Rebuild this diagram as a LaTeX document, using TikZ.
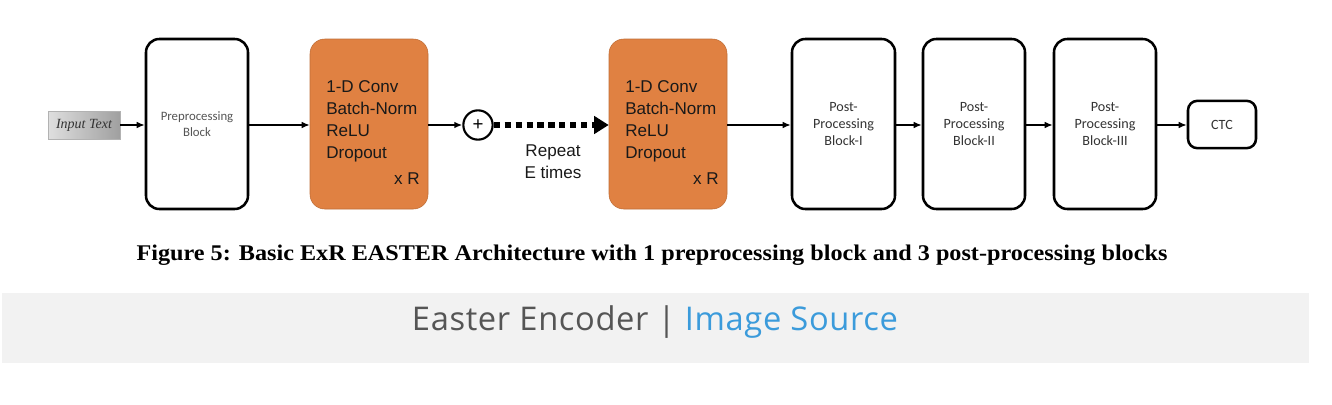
\documentclass[tikz,border=0pt]{standalone}
\usepackage{fontspec}
\setmainfont{Liberation Serif}
\newfontfamily\arialf{Liberation Sans}
\newfontfamily\calib{Carlito}
\newfontfamily\bandf[LetterSpace=2]{Open Sans}
\usetikzlibrary{arrows.meta}
\definecolor{orangebox}{RGB}{224,129,66}
\definecolor{bandgray}{RGB}{242,242,242}
\definecolor{srcblue}{RGB}{59,155,219}
\definecolor{txtgray}{RGB}{85,85,85}
\begin{document}
\begin{tikzpicture}[x=0.75pt,y=-0.75pt,
  whitebox/.style={draw=black,line width=1.9pt,rounded corners=10pt,fill=white,
    minimum height=127.5pt,inner sep=0pt,align=center,font=\calib\fontsize{10.6}{12.6}\selectfont,text=black!80},
  orangeblk/.style={fill=orangebox,draw=orangebox!85!black,line width=0.4pt,rounded corners=11pt,
    minimum width=88.5pt,minimum height=127.5pt,inner sep=0pt},
  blktext/.style={align=left,anchor=west,inner sep=0pt,font=\arialf\fontsize{12.8}{16.5}\selectfont,text=black!90},
  conn/.style={line width=1.1pt,-{Latex[length=6pt,width=5pt]}},
]
\useasboundingbox (0,0) rectangle (1332,404);
% input
\node[draw=gray!60,line width=0.3pt,left color=gray!25,right color=gray!75,minimum width=54pt,minimum height=21pt,inner sep=0pt,
  font=\itshape\fontsize{10.5}{12}\selectfont,text=black!80] (inp) at (84,125) {Input Text};
% blocks
\node[whitebox,minimum width=76.5pt,text=txtgray,font=\calib\fontsize{9.6}{12}\selectfont] (pre) at (197,124) {Preprocessing\\Block};
\node[orangeblk] (o1) at (369,124) {};
\node[blktext] (t1) at (326,121) {1-D Conv\\Batch-Norm\\ReLU\\Dropout};
\node[anchor=east,inner sep=0pt,font=\arialf\fontsize{12.8}{15}\selectfont,text=black!90] (r1) at (420,179) {x R};
\node[draw=black,line width=1.6pt,circle,minimum size=22pt,inner sep=0pt,font=\arialf\fontsize{14}{14}\selectfont] (plus) at (478,125) {+};
\node[orangeblk] (o2) at (668,124) {};
\node[blktext] (t2) at (625,121) {1-D Conv\\Batch-Norm\\ReLU\\Dropout};
\node[anchor=east,inner sep=0pt,font=\arialf\fontsize{12.8}{15}\selectfont,text=black!90] (r2) at (719,179) {x R};
\node[align=center,inner sep=0pt,font=\arialf\fontsize{12.8}{16.5}\selectfont,text=black!90] (rep) at (553,162) {Repeat\\E times};
\node[whitebox,minimum width=77.25pt] (p1) at (843.5,124) {Post-\\Processing\\Block-I};
\node[whitebox,minimum width=76.5pt] (p2) at (974,124) {Post-\\Processing\\Block-II};
\node[whitebox,minimum width=76.5pt] (p3) at (1105,124) {Post-\\Processing\\Block-III};
\node[whitebox,minimum width=51pt,minimum height=35.5pt,rounded corners=7pt] (ctc) at (1222,124.5) {CTC};
% connectors
\draw[conn] (inp.east) -- (pre.west|-inp.east);
\draw[conn] (pre.east|-0,125) -- (o1.west|-0,125);
\draw[conn] (o1.east|-0,125) -- (plus.west);
\draw[line width=4.6pt,dash pattern=on 4.6pt off 3.6pt,-{Triangle[length=11pt,width=13pt]}] (plus.east) -- (o2.west|-plus.east);
\draw[conn] (o2.east|-0,125) -- (p1.west|-0,125);
\draw[conn] (p1.east|-0,125) -- (p2.west|-0,125);
\draw[conn] (p2.east|-0,125) -- (p3.west|-0,125);
\draw[conn] (p3.east|-0,125) -- (ctc.west|-0,125);
% caption
\node[inner sep=0pt] (cap) at (652,255) {\scalebox{1.08}[1]{\bfseries\fontsize{16.8}{19}\selectfont Figure 5: Basic ExR EASTER Architecture with 1 preprocessing block and 3 post-processing blocks}};
% band
\fill[bandgray] (2,293) rectangle (1309,363);
\node[font=\bandf\fontsize{24.5}{28}\selectfont,inner sep=0pt,text=txtgray] (src) at (655,322) {Easter Encoder | \textcolor{srcblue}{Image Source}};
\end{tikzpicture}
\end{document}
